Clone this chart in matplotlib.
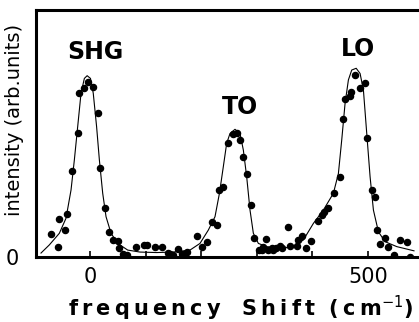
import matplotlib
matplotlib.use("Agg")
import matplotlib.pyplot as plt

# measured points (cm^-1, arb. units)
data_x = [-70, -58, -56, -44, -41, -33, -22, -19, -11, -3, 6, 14, 19, 27, 35, 41, 50, 52,
          60, 66, 83, 98, 102, 117, 129, 141, 144, 150, 159, 165, 174,
          192, 201, 210, 219, 228, 233, 240, 249, 258, 264, 270, 276, 283, 290, 295,
          305, 310, 312, 317, 320, 327, 330, 335, 342, 345, 357, 360, 372, 375, 381, 389, 398,
          410, 417, 421, 429, 439, 449, 455, 459, 468, 470, 477, 486, 494, 498,
          508, 513, 517, 521, 531, 537, 547, 558, 570, 575]
data_y = [.092, .039, .154, .108, .173, .347, .503, .665, .683, .710, .687, .582, .359, .198, .102, .069, .065, .035,
          .012, .010, .042, .049, .049, .042, .042, .015, .012, .010, .031, .014, .021,
          .085, .039, .062, .143, .130, .271, .282, .460, .500, .503, .474, .406, .336, .211, .078,
          .030, .028, .042, .073, .030, .035, .028, .036, .046, .038, .123, .045, .045, .069, .085, .035, .065,
          .146, .170, .183, .200, .260, .325, .557, .638, .652, .667, .737, .683, .706, .480,
          .271, .242, .109, .053, .076, .039, .007, .069, .060, .001]

# fitted curve
fit_x = [-88, -73, -55, -43, -34, -28, -22, -16, -10, -5, 1, 6, 12, 17, 23, 29, 38, 50, 68,
         90, 120, 150, 180, 198, 213, 225, 233, 240, 246, 252, 261, 270, 276, 282, 288, 294,
         303, 318, 342, 364, 384, 402, 420, 438, 447, 453, 459, 465, 471, 479, 486, 492, 498,
         504, 510, 519, 531, 552, 583]
fit_y = [.016, .049, .096, .157, .271, .393, .528, .663, .723, .734, .723, .663, .528, .393, .258, .163, .096, .055, .028,
         .020, .018, .020, .028, .055, .109, .163, .258, .366, .460, .500, .517, .500, .433, .325, .190, .096,
         .055, .042, .036, .040, .069, .136, .190, .258, .338, .474, .622, .717, .757, .764, .743, .676, .500,
         .325, .190, .102, .062, .042, .025]

peak_names = ["SHG", "TO", "LO"]
peak_pos = [9, 270, 483]
peak_height = [0.83, 0.607, 0.842]

fig = plt.figure(figsize=(4.19, 3.22), dpi=100)
ax = fig.add_axes([36 / 419, 65 / 322, 383 / 419, 247 / 322])

ax.plot(fit_x, fit_y, "k-", lw=0.8)
ax.plot(data_x, data_y, "ko", ms=4.4, mec="k")

for name, xp, yp in zip(peak_names, peak_pos, peak_height):
    ax.text(xp, yp, name, ha="center", va="center", fontsize=17, fontweight="bold")

ax.set_xlim(-97, 592)
ax.set_ylim(0, 1)
ax.set_xticks([0, 100, 200, 300, 400, 500])
ax.set_xticklabels(["0", "", "", "", "", "500"])
ax.set_yticks([0])
ax.tick_params(direction="in", length=4, width=1.2, labelsize=15, pad=7)
ax.tick_params(axis="y", length=0, pad=12)
ax.spines["right"].set_visible(False)
for s in ["left", "top", "bottom"]:
    ax.spines[s].set_linewidth(2.2)

ts = "\u2009"
xlab = ts.join("frequency") + "   " + ts.join("Shift") + "  " + ts.join("(cm") + "$^{-1}$)"
fig.text(240 / 419, 1 - 308 / 322, xlab, ha="center", va="center", fontsize=15, fontweight="bold")
fig.text(15 / 419, 1 - 120 / 322, "intensity (arb.units)", ha="center", va="center",
         rotation=90, fontsize=14)

plt.savefig("out.png", dpi=100)
